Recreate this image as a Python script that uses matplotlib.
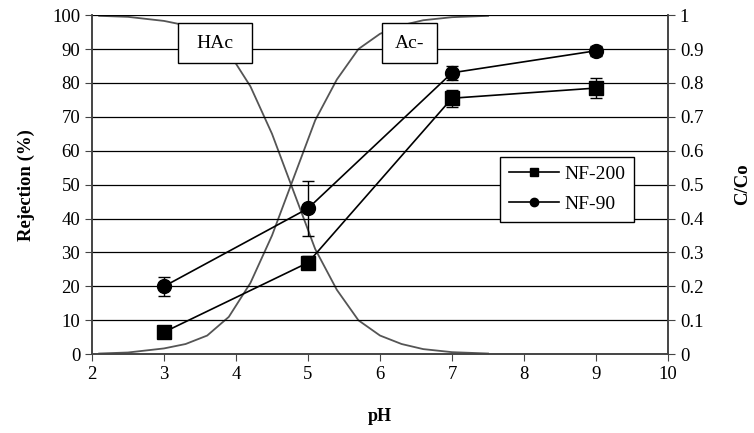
import matplotlib
matplotlib.use("Agg")
import matplotlib.pyplot as plt
from matplotlib.lines import Line2D
from matplotlib.patches import Rectangle

plt.rcParams['font.family'] = ['Liberation Serif', 'DejaVu Serif']

# Rejection data
ph = [3, 5, 7, 9]
nf200 = [6.5, 27.0, 75.5, 78.5]
nf200_err = [1.0, 2.0, 2.5, 3.0]
nf90 = [20.0, 43.0, 83.0, 89.5]
nf90_err = [2.7, 8.0, 2.0, 1.5]

# Species fractions (C/Co)
ph_curve = [2.1, 2.5, 3.0, 3.3, 3.6, 3.9, 4.2, 4.5, 4.8, 5.1, 5.4, 5.7, 6.0, 6.3, 6.6, 7.0, 7.5]
ac_minus = [0.002, 0.005, 0.017, 0.03, 0.055, 0.11, 0.21, 0.35, 0.52, 0.69, 0.81, 0.9, 0.945, 0.97, 0.985, 0.994, 0.998]
hac = [1 - v for v in ac_minus]

fig = plt.figure(figsize=(7.54, 4.33), dpi=100)
ax = fig.add_axes([0.122, 0.182, 0.764, 0.783])
ax2 = ax.twinx()

ax.set_xlim(2, 10)
ax.set_ylim(0, 100)
ax2.set_ylim(0, 1)
ax.set_xticks(range(2, 11))
ax.set_yticks(range(0, 101, 10))
ax2.set_yticks([i / 10 for i in range(11)])
ax2.set_yticklabels(['0', '0.1', '0.2', '0.3', '0.4', '0.5', '0.6', '0.7', '0.8', '0.9', '1'])

for y in range(10, 101, 10):
    ax.axhline(y, color='black', lw=0.9, zorder=0)

ax2.plot(ph_curve, hac, color='#555555', lw=1.3, zorder=1)
ax2.plot(ph_curve, ac_minus, color='#555555', lw=1.3, zorder=1)

ax.set_zorder(ax2.get_zorder() + 1)
ax.patch.set_visible(False)

ax.errorbar(ph, nf200, yerr=nf200_err, color='black', marker='s', ms=10, lw=1.2,
            capsize=4, elinewidth=1.0, capthick=1.0, zorder=3)
ax.errorbar(ph, nf90, yerr=nf90_err, color='black', marker='o', ms=10, lw=1.2,
            capsize=4, elinewidth=1.0, capthick=1.0, zorder=3)

for a in (ax, ax2):
    a.spines['top'].set_visible(False)
    for s in ('left', 'right', 'bottom'):
        a.spines[s].set_color('#444444')
        a.spines[s].set_linewidth(1.2)
    a.tick_params(direction='out', length=5, labelsize=13.5, color='#444444')

ax.set_xlabel('pH', fontsize=13, fontweight='bold', labelpad=18)
ax.set_ylabel('Rejection (%)', fontsize=13.5, fontweight='bold', labelpad=12)
ax2.set_ylabel('C/Co', fontsize=13.5, fontweight='bold', labelpad=22)

# Species label boxes
ax.add_patch(Rectangle((3.194, 85.8), 1.028, 11.8, fc='white', ec='black', lw=1.0, zorder=5))
ax.text(3.708, 91.7, 'HAc', fontsize=14, ha='center', va='center', zorder=6)
ax.add_patch(Rectangle((6.028, 85.8), 0.764, 11.8, fc='white', ec='black', lw=1.0, zorder=5))
ax.text(6.41, 91.7, 'Ac-', fontsize=14, ha='center', va='center', zorder=6)

handles = [Line2D([], [], color='black', marker='s', ms=6, lw=1.2),
           Line2D([], [], color='black', marker='o', ms=6, lw=1.2)]
leg = ax.legend(handles, ['NF-200', 'NF-90'], loc='upper left', bbox_to_anchor=(0.708, 0.583),
                fontsize=14, frameon=True, fancybox=False, edgecolor='black', framealpha=1,
                handlelength=2.6, handletextpad=0.25, borderpad=0.45, labelspacing=0.65,
                borderaxespad=0)
leg.get_frame().set_linewidth(1.0)
leg.set_zorder(7)

fig.savefig('out.png', dpi=100)
